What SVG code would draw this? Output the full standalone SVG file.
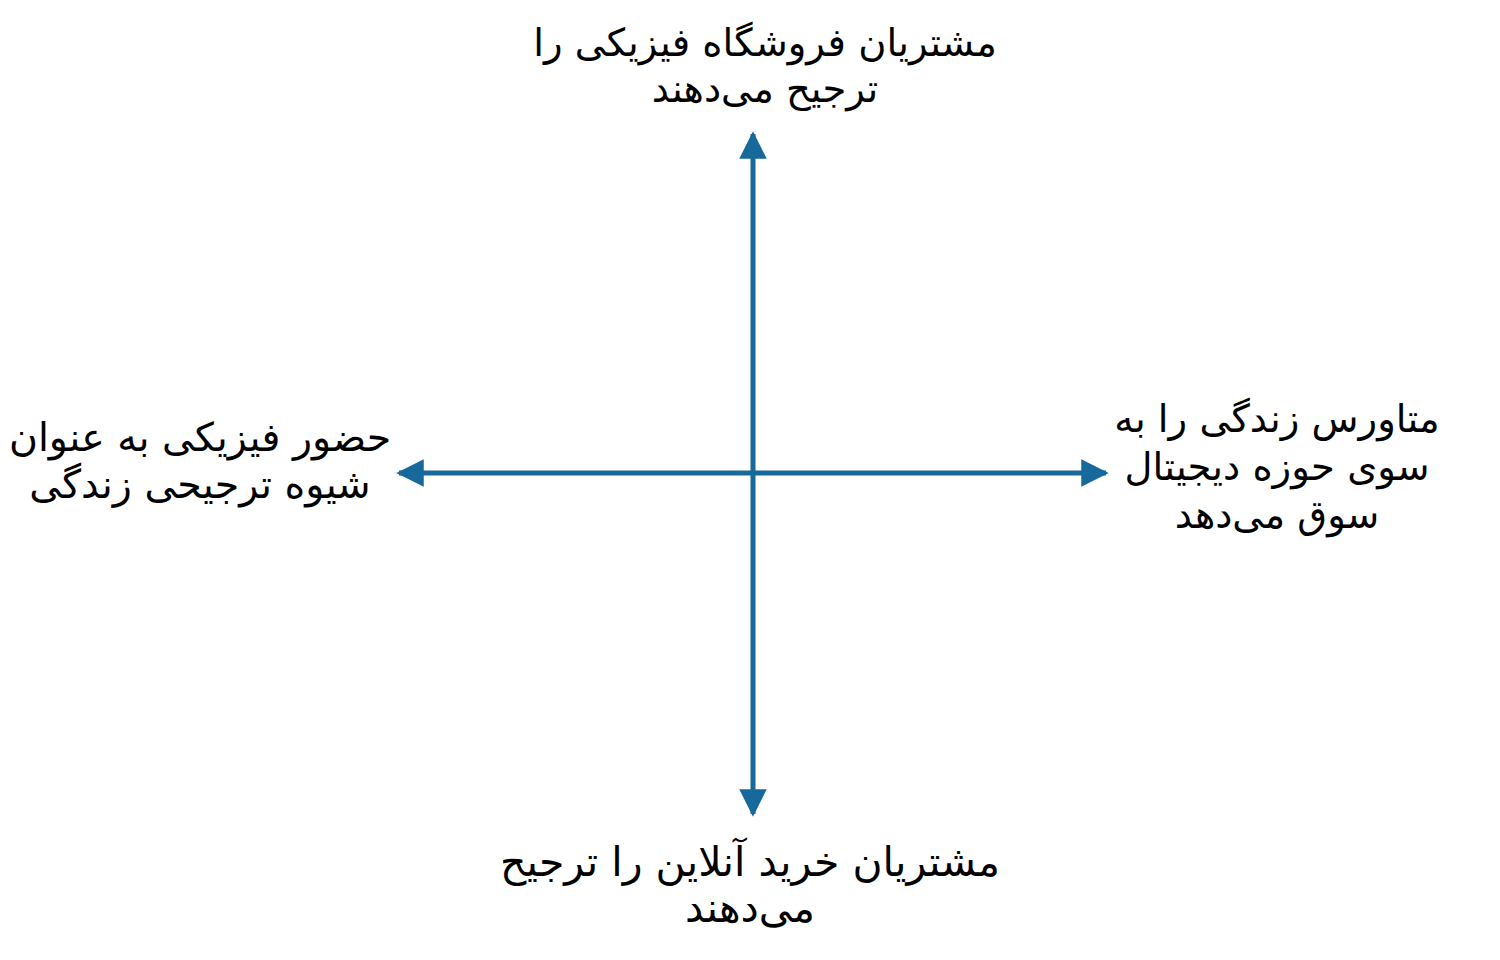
<svg xmlns="http://www.w3.org/2000/svg" width="1500" height="960" viewBox="0 0 1500 960">
<style>
.lbl{font-family:"DejaVu Sans","Noto Sans",sans-serif;font-size:38.5px;fill:#000;text-anchor:middle;direction:rtl}
.ax{stroke:#17699b;stroke-width:5;fill:none}
</style>
<defs>
<marker id="ah" viewBox="0 0 10 10" refX="9" refY="5" markerWidth="5.5" markerHeight="5.5" orient="auto" markerUnits="strokeWidth">
<path d="M0,0 L10,5 L0,10 Z" fill="#17699b"/>
</marker>
</defs>
<rect width="1500" height="960" fill="#fff"/>
<g id="connectors">
<line class="ax" x1="753" y1="473" x2="753" y2="134" marker-end="url(#ah)"/>
<line class="ax" x1="753" y1="473" x2="753" y2="814" marker-end="url(#ah)"/>
<line class="ax" x1="753" y1="473" x2="399" y2="473" marker-end="url(#ah)"/>
<line class="ax" x1="753" y1="473" x2="1106" y2="473" marker-end="url(#ah)"/>
</g>
<g id="top">
<text class="lbl" x="765" y="56">مشتریان فروشگاه فیزیکی را</text>
<text class="lbl" x="765" y="102">ترجیح می‌دهند</text>
</g>
<g id="bottom">
<text class="lbl" x="750" y="876" style="font-size:41px">مشتریان خرید آنلاین را ترجیح</text>
<text class="lbl" x="750" y="922" style="font-size:41px">می‌دهند</text>
</g>
<g id="left">
<text class="lbl" x="200" y="451" style="font-size:39.5px">حضور فیزیکی به عنوان</text>
<text class="lbl" x="200" y="498" style="font-size:39.5px">شیوه ترجیحی زندگی</text>
</g>
<g id="right">
<text class="lbl" x="1277" y="432" style="font-size:38.5px">متاورس زندگی را به</text>
<text class="lbl" x="1277" y="480" style="font-size:38.5px">سوی حوزه دیجیتال</text>
<text class="lbl" x="1277" y="528" style="font-size:38.5px">سوق می‌دهد</text>
</g>
</svg>
